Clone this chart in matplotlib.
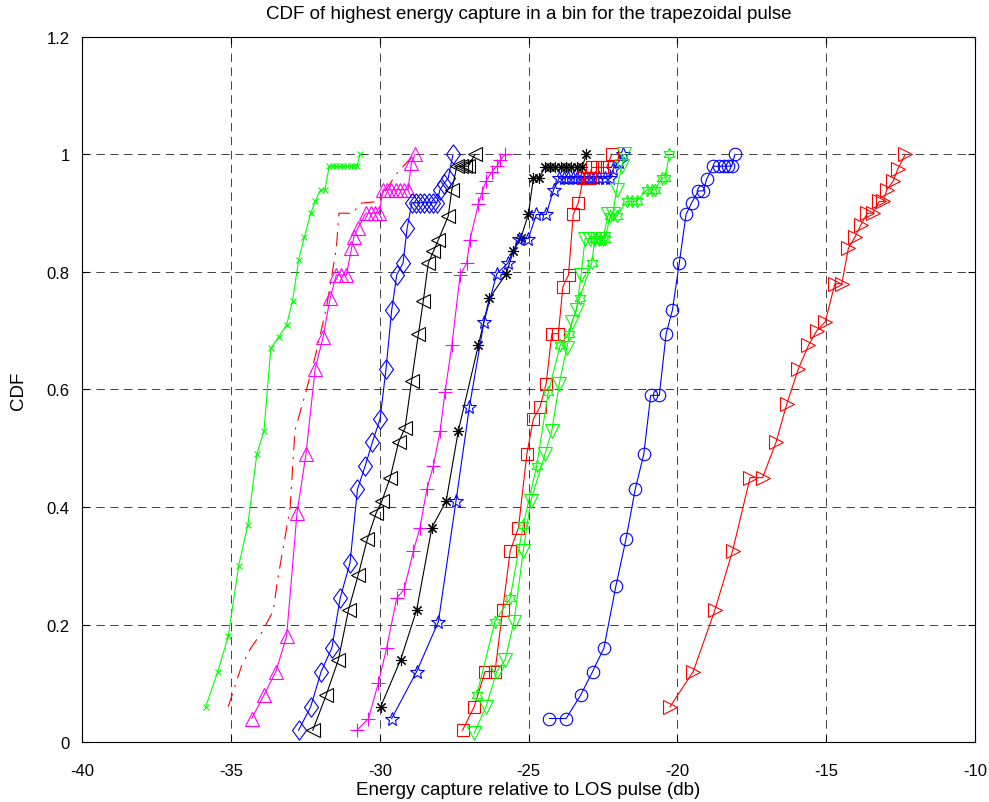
import numpy as np
import matplotlib
matplotlib.use('Agg')
import matplotlib.pyplot as plt

plt.rcParams['font.family'] = ['Liberation Sans', 'DejaVu Sans']
plt.rcParams['lines.scale_dashes'] = False
plt.rcParams['axes.unicode_minus'] = False

# --- data (x in db, y = CDF) ---
x_green_x = [-35.85, -35.44, -35.09, -34.74, -34.43, -34.13, -33.89, -33.66, -33.39,
             -33.13, -32.93, -32.73, -32.53, -32.32, -32.17, -31.99, -31.84,
             -31.70, -31.58, -31.46, -31.34, -31.22, -31.10, -30.98, -30.86, -30.76, -30.67]
y_green_x = [0.06, 0.12, 0.18, 0.30, 0.37, 0.49, 0.53, 0.67, 0.69, 0.71, 0.75, 0.82,
             0.86, 0.90, 0.92, 0.94, 0.94,
             0.98, 0.98, 0.98, 0.98, 0.98, 0.98, 0.98, 0.98, 0.98, 1.0]

x_red_dash = [-35.09, -34.64, -34.33, -33.96, -33.58, -33.42, -33.21, -33.01, -32.85,
              -32.46, -32.15, -31.79, -31.46, -31.37, -30.90, -30.66, -30.05, -29.44, -28.85]
y_red_dash = [0.06, 0.13, 0.16, 0.187, 0.223, 0.28, 0.34, 0.40, 0.53,
              0.60, 0.66, 0.74, 0.84, 0.90, 0.90, 0.917, 0.92, 0.967, 1.0]

x_mag_tri = [-34.30, -33.89, -33.49, -33.13, -32.78, -32.48, -32.17, -31.90, -31.67,
             -31.46, -31.29, -31.12, -30.95, -30.87, -30.73, -30.47, -30.31, -30.17,
             -30.02, -29.89, -29.75, -29.61, -29.47, -29.33, -29.19, -29.05, -28.94, -28.82]
y_mag_tri = [0.04, 0.08, 0.12, 0.18, 0.39, 0.49, 0.635, 0.69, 0.755,
             0.795, 0.795, 0.795, 0.84, 0.86, 0.875, 0.90, 0.90, 0.90,
             0.90, 0.94, 0.94, 0.94, 0.94, 0.94, 0.94, 0.94, 0.985, 1.0]

x_blue_dia = [-32.73, -32.32, -31.97, -31.61, -31.33, -31.00, -30.75, -30.49, -30.25,
              -29.99, -29.79, -29.60, -29.43, -29.22, -29.08, -28.92, -28.78, -28.64,
              -28.50, -28.36, -28.22, -28.08, -27.98, -27.85, -27.70, -27.54]
y_blue_dia = [0.02, 0.06, 0.12, 0.16, 0.245, 0.305, 0.43, 0.47, 0.51,
              0.55, 0.635, 0.735, 0.795, 0.815, 0.875, 0.918, 0.918, 0.918,
              0.918, 0.918, 0.918, 0.918, 0.94, 0.95, 0.96, 1.0]

x_blk_tri = [-32.25, -31.80, -31.39, -31.05, -30.72, -30.42, -30.12, -29.93, -29.65,
             -29.37, -29.15, -28.93, -28.70, -28.54, -28.37, -28.20, -28.03, -27.70,
             -27.58, -27.41, -27.28, -27.15, -27.03, -26.80]
y_blk_tri = [0.02, 0.08, 0.14, 0.225, 0.285, 0.345, 0.39, 0.41, 0.45,
             0.51, 0.535, 0.615, 0.695, 0.75, 0.815, 0.835, 0.855, 0.895,
             0.94, 0.98, 0.98, 0.98, 0.98, 1.0]

x_mag_plus = [-30.77, -30.38, -30.05, -29.77, -29.43, -29.18, -28.87, -28.65, -28.42,
              -28.20, -27.97, -27.81, -27.58, -27.30, -27.08, -26.97, -26.69, -26.57,
              -26.43, -26.24, -26.07, -25.96, -25.79]
y_mag_plus = [0.02, 0.04, 0.10, 0.16, 0.245, 0.26, 0.325, 0.365, 0.43,
              0.47, 0.53, 0.595, 0.675, 0.795, 0.815, 0.855, 0.915, 0.935,
              0.955, 0.97, 0.98, 0.99, 1.0]

x_blk_ast = [-29.97, -29.30, -28.76, -28.25, -27.77, -27.36, -26.69, -26.32, -25.75,
             -25.52, -25.26, -25.01, -24.84, -24.65, -24.45, -24.28, -24.10, -23.92,
             -23.74, -23.56, -23.38, -23.21, -23.06]
y_blk_ast = [0.06, 0.14, 0.225, 0.365, 0.41, 0.53, 0.675, 0.755, 0.797,
             0.835, 0.858, 0.898, 0.96, 0.96, 0.978, 0.978, 0.978, 0.978,
             0.978, 0.978, 0.978, 0.978, 1.0]

x_blue_star = [-29.60, -28.76, -28.03, -27.44, -26.99, -26.50, -26.07, -25.70, -25.32,
               -25.01, -24.74, -24.41, -24.16, -23.97, -23.82, -23.67, -23.52, -23.37,
               -23.22, -23.07, -22.92, -22.77, -22.62, -22.45, -22.28, -22.15, -21.98, -21.84]
y_blue_star = [0.04, 0.12, 0.205, 0.41, 0.57, 0.715, 0.797, 0.815, 0.857,
               0.857, 0.898, 0.898, 0.94, 0.96, 0.96, 0.96, 0.96, 0.96,
               0.96, 0.96, 0.96, 0.96, 0.96, 0.96, 0.96, 0.976, 0.987, 1.0]

x_red_sq = [-27.22, -26.83, -26.46, -26.13, -25.87, -25.62, -25.34, -25.06, -24.84,
            -24.62, -24.41, -24.22, -24.00, -23.85, -23.66, -23.50, -23.33, -23.16,
            -23.05, -22.95, -22.88, -22.71, -22.54, -22.38, -22.21]
y_red_sq = [0.02, 0.06, 0.12, 0.12, 0.225, 0.325, 0.365, 0.49, 0.55,
            0.57, 0.61, 0.695, 0.695, 0.775, 0.795, 0.898, 0.918, 0.96,
            0.96, 0.96, 0.978, 0.978, 0.978, 0.978, 1.0]

x_grn_tri = [-26.83, -26.43, -26.07, -25.79, -25.49, -25.18, -24.93, -24.45, -24.22,
             -23.97, -23.72, -23.55, -23.39, -23.24, -23.10, -22.95, -22.80, -22.65,
             -22.50, -22.33, -22.18, -22.04, -21.87, -21.79]
y_grn_tri = [0.015, 0.06, 0.12, 0.14, 0.205, 0.325, 0.41, 0.49, 0.53,
             0.61, 0.67, 0.715, 0.735, 0.795, 0.857, 0.857, 0.857, 0.857,
             0.857, 0.898, 0.898, 0.94, 0.98, 1.0]

x_grn_hex = [-26.74, -26.13, -25.62, -25.18, -24.73, -24.34, -23.94, -23.66, -23.29,
             -22.88, -22.77, -22.60, -22.43, -22.26, -22.04, -21.71, -21.54, -21.37,
             -21.03, -20.87, -20.75, -20.53, -20.42, -20.27]
y_grn_hex = [0.08, 0.205, 0.245, 0.37, 0.47, 0.595, 0.675, 0.695, 0.755,
             0.815, 0.857, 0.857, 0.857, 0.895, 0.895, 0.92, 0.92, 0.92,
             0.94, 0.94, 0.94, 0.96, 0.96, 1.0]

x_blue_circ = [-24.30, -23.74, -23.25, -22.85, -22.47, -22.07, -21.73, -21.42, -21.13,
               -20.90, -20.61, -20.38, -20.17, -19.94, -19.71, -19.52, -19.30, -19.13,
               -19.02, -18.80, -18.62, -18.45, -18.30, -18.18, -18.07]
y_blue_circ = [0.04, 0.04, 0.08, 0.12, 0.16, 0.265, 0.345, 0.43, 0.49,
               0.59, 0.59, 0.695, 0.735, 0.815, 0.898, 0.918, 0.938, 0.938,
               0.958, 0.98, 0.98, 0.98, 0.98, 0.98, 1.0]

x_red_tri = [-20.25, -19.47, -18.74, -18.15, -17.56, -17.14, -16.69, -16.33, -15.94,
             -15.60, -15.32, -15.04, -14.71, -14.48, -14.26, -14.03, -13.84, -13.62,
             -13.44, -13.22, -13.08, -12.97, -12.75, -12.60, -12.35]
y_red_tri = [0.06, 0.12, 0.225, 0.325, 0.45, 0.45, 0.51, 0.575, 0.635,
             0.675, 0.70, 0.715, 0.78, 0.78, 0.84, 0.86, 0.88, 0.90,
             0.90, 0.92, 0.92, 0.94, 0.955, 0.975, 1.0]

xticks = [-40, -35, -30, -25, -20, -15, -10]
yticks = [0, 0.2, 0.4, 0.6, 0.8, 1.0, 1.2]
ytick_labels = ['0', '0.2', '0.4', '0.6', '0.8', '1', '1.2']

G = (0, 1, 0)
M = (1, 0, 1)
asterisk = (8, 2, 0)
hexagram = (6, 1, 0)
# matlab style diamond: a bit taller than wide
diamond = [(0, 1), (0.72, 0), (0, -1), (-0.72, 0), (0, 1)]

fig = plt.figure(figsize=(9.89, 8.03), dpi=100)
ax = fig.add_axes([0.083, 0.0747, 0.903, 0.878])

kw = dict(lw=0.8, mew=0.8, mfc='none')
ax.plot(x_green_x, y_green_x, '-', color=G, marker='x', ms=5, **kw)
ax.plot(x_red_dash, y_red_dash, color='r', lw=0.8, linestyle=(0, (10, 5, 1.5, 5)))
ax.plot(x_mag_tri, y_mag_tri, '-', color=M, marker='^', ms=10, **kw)
ax.plot(x_blue_dia, y_blue_dia, '-', color='b', marker=diamond, ms=14, **kw)
ax.plot(x_blk_tri, y_blk_tri, '-', color='k', marker='<', ms=10, **kw)
ax.plot(x_mag_plus, y_mag_plus, '-', color=M, marker='+', ms=10, **kw)
ax.plot(x_blk_ast, y_blk_ast, '-', color='k', marker=asterisk, ms=8, **kw)
ax.plot(x_blue_star, y_blue_star, '-', color='b', marker='*', ms=10, **kw)
ax.plot(x_red_sq, y_red_sq, '-', color='r', marker='s', ms=9, **kw)
ax.plot(x_grn_tri, y_grn_tri, '-', color=G, marker='v', ms=10, **kw)
ax.plot(x_grn_hex, y_grn_hex, '-', color=G, marker=hexagram, ms=9, **kw)
ax.plot(x_blue_circ, y_blue_circ, '-', color='b', marker='o', ms=9, **kw)
ax.plot(x_red_tri, y_red_tri, '-', color='r', marker='>', ms=10, **kw)

ax.set_xlim(-40, -10)
ax.set_ylim(0, 1.2)
ax.set_xticks(xticks)
ax.set_yticks(yticks)
ax.set_yticklabels(ytick_labels)
ax.grid(True, color='#222222', lw=0.6, linestyle=(0, (6, 4)))
ax.tick_params(direction='in', top=True, right=True, length=5, labelsize=12)
ax.tick_params(axis='x', pad=15)
ax.tick_params(axis='y', pad=9)
for s in ax.spines.values():
    s.set_linewidth(0.8)

ax.set_title('CDF of highest energy capture in a bin for the trapezoidal pulse',
             fontsize=13.5, pad=14)
ax.set_xlabel('Energy capture relative to LOS pulse (db)', fontsize=13.5, labelpad=2)
ax.set_ylabel('CDF', fontsize=13.5, labelpad=14)

fig.savefig('out.png', dpi=100)
